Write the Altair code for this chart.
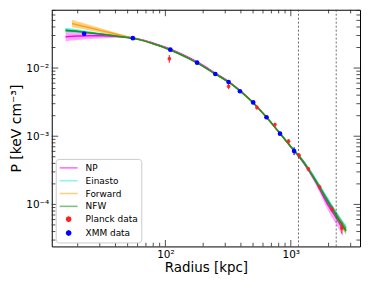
import altair as alt
import pandas as pd

# ---------------- data ----------------
R = [16, 20, 25, 32, 40, 50, 63, 80, 100, 126, 160, 200, 250, 320, 400, 500, 630, 800, 1000, 1260, 1600, 2000, 2500, 2760]

NFW_MID = [0.0355, 0.0343, 0.0327, 0.0310, 0.0295, 0.0280, 0.0259, 0.0227, 0.0197, 0.0165, 0.0133, 0.0106, 0.0082, 0.0062, 0.0045, 0.0031, 0.00196, 0.00116, 0.00070, 0.00042, 0.000213, 0.000106, 0.000054, 0.000041]
NFW_LO = [0.0344, 0.0334, 0.0320, 0.0305, 0.0291, 0.0277, 0.0257, 0.0225, 0.0195, 0.0164, 0.0132, 0.0105, 0.00813, 0.00614, 0.00445, 0.00306, 0.00193, 0.00114, 0.00068, 0.00040, 0.000200, 0.000097, 0.000048, 0.000036]
NFW_HI = [0.0366, 0.0352, 0.0334, 0.0315, 0.0299, 0.0283, 0.0261, 0.0229, 0.0199, 0.0166, 0.0134, 0.0107, 0.00827, 0.00626, 0.00455, 0.00314, 0.00199, 0.00118, 0.00072, 0.00044, 0.000226, 0.000115, 0.000060, 0.000046]

EIN_MID = [0.0362, 0.0349, 0.0332, 0.0313, 0.0297, 0.0281, 0.0259, 0.0227, 0.0197, 0.0165, 0.0133, 0.0106, 0.0082, 0.0062, 0.0045, 0.0031, 0.00196, 0.00117, 0.00071, 0.00043, 0.000222, 0.000112, 0.000058, 0.000045]
EIN_LO = [0.0336, 0.0330, 0.0320, 0.0305, 0.0292, 0.0278, 0.0257, 0.0225, 0.0195, 0.0164, 0.0132, 0.0105, 0.00813, 0.00614, 0.00446, 0.00307, 0.00193, 0.00115, 0.00069, 0.00041, 0.000208, 0.000103, 0.000052, 0.000040]
EIN_HI = [0.0390, 0.0370, 0.0345, 0.0322, 0.0303, 0.0285, 0.0261, 0.0229, 0.0199, 0.0166, 0.0134, 0.0107, 0.00827, 0.00626, 0.00454, 0.00313, 0.00199, 0.00119, 0.00073, 0.00045, 0.000236, 0.000122, 0.000064, 0.000050]

R_FWD = [18, 20, 25, 32, 40, 50, 63, 80, 100, 126, 160, 200, 250, 320, 400, 500, 630, 800, 1000, 1260, 1600, 2000, 2500, 2760]
FWD_MID = [0.0450, 0.0429, 0.0389, 0.0348, 0.0316, 0.0286, 0.0260, 0.0227, 0.0197, 0.0165, 0.0133, 0.0106, 0.0082, 0.0062, 0.0045, 0.0031, 0.00196, 0.00116, 0.00070, 0.00042, 0.000214, 0.000107, 0.000055, 0.000042]
FWD_LO = [0.0397, 0.0383, 0.0355, 0.0324, 0.0300, 0.0277, 0.0256, 0.0225, 0.0195, 0.0164, 0.0132, 0.0105, 0.00813, 0.00614, 0.00446, 0.00307, 0.00194, 0.00115, 0.00069, 0.00041, 0.000206, 0.000101, 0.000050, 0.000038]
FWD_HI = [0.0509, 0.0480, 0.0426, 0.0374, 0.0333, 0.0295, 0.0264, 0.0229, 0.0199, 0.0166, 0.0134, 0.0107, 0.00827, 0.00626, 0.00454, 0.00313, 0.00198, 0.00117, 0.00071, 0.00043, 0.000222, 0.000113, 0.000060, 0.000046]

R_NP = [16, 20, 25, 32, 40, 50, 63, 80, 100, 126, 160, 200, 250, 320, 400, 500, 630, 800, 1000, 1260, 1600, 2000, 2300, 2600]
NP_MID = [0.0288, 0.0294, 0.0297, 0.0297, 0.0292, 0.0282, 0.0263, 0.0232, 0.0202, 0.0170, 0.0137, 0.0109, 0.0084, 0.0063, 0.00455, 0.00312, 0.00196, 0.00116, 0.00070, 0.00041, 0.000205, 0.000095, 0.000064, 0.000043]
NP_LO = [0.0248, 0.0258, 0.0267, 0.0274, 0.0276, 0.0272, 0.0257, 0.0228, 0.0199, 0.0168, 0.0135, 0.0107, 0.0083, 0.00622, 0.00449, 0.00307, 0.00192, 0.00113, 0.00067, 0.00039, 0.000186, 0.000079, 0.000051, 0.000034]
NP_HI = [0.0335, 0.0333, 0.0328, 0.0320, 0.0308, 0.0292, 0.0269, 0.0236, 0.0205, 0.0172, 0.0139, 0.0111, 0.0085, 0.00638, 0.00461, 0.00317, 0.00200, 0.00119, 0.00073, 0.00044, 0.000225, 0.000112, 0.000079, 0.000055]

XMM_R = [22.5, 55, 109.5, 179, 250, 319, 393, 501, 640, 820, 1062]
XMM_P = [0.0318, 0.0274, 0.0186, 0.0120, 0.00817, 0.00625, 0.00457, 0.00313, 0.00190, 0.00109, 0.000608]
XMM_LO = [0.0309, 0.0267, 0.0181, 0.0117, 0.00795, 0.00608, 0.00444, 0.00303, 0.00183, 0.00104, 0.000530]
XMM_HI = [0.0327, 0.0281, 0.0191, 0.0123, 0.00839, 0.00642, 0.00470, 0.00323, 0.00197, 0.00114, 0.000690]

PL_R = [107.6, 319, 537, 747, 959, 1165, 1381, 1697, 2125, 2551]
PL_P = [0.0137, 0.0054, 0.00264, 0.00148, 0.000847, 0.000526, 0.000331, 0.000180, 0.0000855, 0.0000450]
PL_LO = [0.0120, 0.0049, 0.00245, 0.00138, 0.000790, 0.000490, 0.000308, 0.000166, 0.0000770, 0.0000370]
PL_HI = [0.0155, 0.0059, 0.00283, 0.00158, 0.000905, 0.000562, 0.000354, 0.000194, 0.0000940, 0.0000550]

VLINES = [1151, 2301]

X_MAJOR = [100, 1000]
X_MINOR = [20, 30, 40, 50, 60, 70, 80, 90, 200, 300, 400, 500, 600, 700, 800, 900, 2000, 3000]
Y_MAJOR = [1e-4, 1e-3, 1e-2]
Y_MINOR = [3e-5, 4e-5, 5e-5, 6e-5, 7e-5, 8e-5, 9e-5,
           2e-4, 3e-4, 4e-4, 5e-4, 6e-4, 7e-4, 8e-4, 9e-4,
           2e-3, 3e-3, 4e-3, 5e-3, 6e-3, 7e-3, 8e-3, 9e-3,
           2e-2, 3e-2, 4e-2, 5e-2, 6e-2, 7e-2]

LEGEND_NAMES = ["NP", "Einasto", "Forward", "NFW", "Planck data", "XMM data"]
LINE_SYM = "M-1,0L2.6,0"
PT_SYM = ("M1.22,0L1.097,0.297L0.8,0.42L0.503,0.297L0.38,0L0.503,-0.297L0.8,-0.42L1.097,-0.297Z"
          "M0.8,-0.5L0.8,0.5")
LEGEND_SYMBOLS = [LINE_SYM, LINE_SYM, LINE_SYM, LINE_SYM, PT_SYM, PT_SYM]
LEGEND_STROKES = ["#ff70ff", "#88f4f4", "#ffcf80", "#80c080", "#ff2020", "#0000ff"]
LEGEND_FILLS = ["transparent", "transparent", "transparent", "transparent", "#ff2020", "#0000ff"]

# ---------------- chart ----------------
W, H = 310, 238
FONT = "DejaVu Sans"
xs = alt.Scale(type="log", domain=[12.42, 3563], nice=False)
ys = alt.Scale(type="log", domain=[2.42e-5, 0.0716], nice=False)

XAX = alt.Axis(
    title="Radius [kpc]", values=X_MAJOR, ticks=False, domain=False, grid=False,
    labelExpr="datum.value >= 1000 ? '10³' : '10²'",
    labelFont=FONT, labelFontSize=10.5, labelColor="black", labelPadding=3,
    titleFont=FONT, titleFontSize=13.5, titleFontWeight="normal", titleColor="black",
    titlePadding=1, labelFlush=False,
)
YAX = alt.Axis(
    title="P [keV cm⁻³]", values=Y_MAJOR, ticks=False, domain=False, grid=False,
    labelExpr="datum.value < 0.0005 ? '10⁻⁴' : (datum.value < 0.005 ? '10⁻³' : '10⁻²')",
    labelFont=FONT, labelFontSize=10.5, labelColor="black", labelPadding=3,
    titleFont=FONT, titleFontSize=14, titleFontWeight="normal", titleColor="black",
    titleX=-35, titleY=H / 2, titleAngle=270, titleAlign="center", titleBaseline="middle",
    labelFlush=False,
)


def X(field):
    return alt.X(field, type="quantitative", scale=xs, axis=XAX)


def Y(field):
    return alt.Y(field, type="quantitative", scale=ys, axis=YAX)


def model_layers(r, lo, mid, hi, color, band_op, line_color):
    df = pd.DataFrame({"r": r, "lo": lo, "mid": mid, "hi": hi})
    base = alt.Chart(df)
    area = base.mark_area(color=color, opacity=band_op, interpolate="monotone", clip=True).encode(
        x=X("r"), y=Y("lo"), y2="hi"
    )
    line = base.mark_line(color=line_color, strokeWidth=1.5, interpolate="monotone", clip=True).encode(
        x=X("r"), y=Y("mid")
    )
    return [area, line]


layers = []
layers += model_layers(R_NP, NP_LO, NP_MID, NP_HI, "#ff00ff", 0.35, "#ff00ff")
layers += model_layers(R, EIN_LO, EIN_MID, EIN_HI, "#00e5e5", 0.55, "#00e0e0")
layers += model_layers(R_FWD, FWD_LO, FWD_MID, FWD_HI, "#ffa500", 0.5, "#ffa020")
layers += model_layers(R, NFW_LO, NFW_MID, NFW_HI, "#1a9a1a", 0.45, "#1f8f1f")

vdf = pd.DataFrame({"r": VLINES})
layers.append(
    alt.Chart(vdf).mark_rule(color="#444444", strokeDash=[2, 2], strokeWidth=0.8).encode(
        x=X("r"), y=alt.value(0), y2=alt.value(H)
    )
)

pl = pd.DataFrame({"r": PL_R, "p": PL_P, "lo": PL_LO, "hi": PL_HI})
layers.append(
    alt.Chart(pl).mark_rule(color="#ff2020", strokeWidth=1.2, opacity=0.85).encode(
        x=X("r"), y=Y("lo"), y2="hi"
    )
)
layers.append(
    alt.Chart(pl).mark_point(filled=True, color="#ff2020", size=14, opacity=0.9).encode(
        x=X("r"), y=Y("p")
    )
)

xm = pd.DataFrame({"r": XMM_R, "p": XMM_P, "lo": XMM_LO, "hi": XMM_HI})
layers.append(
    alt.Chart(xm).mark_rule(color="#0000ff", strokeWidth=1.2).encode(
        x=X("r"), y=Y("lo"), y2="hi"
    )
)
layers.append(
    alt.Chart(xm).mark_point(filled=True, color="#0000ff", size=22, opacity=1).encode(
        x=X("r"), y=Y("p")
    )
)

# inward ticks on all four sides
MAJ, MIN = 6.5, 3.7
for vals, L in [(X_MAJOR, MAJ), (X_MINOR, MIN)]:
    df = pd.DataFrame({"r": vals})
    for y0, y1 in [(H, H - L), (0, L)]:
        layers.append(
            alt.Chart(df).mark_rule(color="#222222", strokeWidth=0.8).encode(
                x=X("r"), y=alt.value(y0), y2=alt.value(y1)
            )
        )
for vals, L in [(Y_MAJOR, MAJ), (Y_MINOR, MIN)]:
    df = pd.DataFrame({"p": vals})
    for x0, x1 in [(0, L), (W, W - L)]:
        layers.append(
            alt.Chart(df).mark_rule(color="#222222", strokeWidth=0.8).encode(
                y=Y("p"), x=alt.value(x0), x2=alt.value(x1)
            )
        )

# legend (from the scale domain; the layer itself draws nothing)
leg = pd.DataFrame({"name": LEGEND_NAMES})
layers.append(
    alt.Chart(leg).mark_point(filled=False, size=100, strokeWidth=1.6, opacity=1).encode(
        shape=alt.Shape("name:N", scale=alt.Scale(domain=LEGEND_NAMES, range=LEGEND_SYMBOLS), legend=alt.Legend(title=None)),
        stroke=alt.Stroke("name:N", scale=alt.Scale(domain=LEGEND_NAMES, range=LEGEND_STROKES), legend=alt.Legend(title=None)),
        fill=alt.Fill("name:N", scale=alt.Scale(domain=LEGEND_NAMES, range=LEGEND_FILLS), legend=alt.Legend(title=None)),
    ).transform_filter("datum.name == 'none'")
)

chart = alt.layer(*layers).properties(
    width=W, height=H,
    autosize=alt.AutoSizeParams(type="none"),
    padding={"left": 44, "top": 1, "right": 6, "bottom": 32},
).configure_view(
    stroke="black", strokeWidth=1
).configure_legend(
    orient="bottom-left", offset=4, padding=3, strokeColor="#cccccc", cornerRadius=3,
    fillColor="white", labelFont=FONT, labelFontSize=9, labelColor="black",
    labelOffset=15, symbolSize=100, symbolStrokeWidth=1.6, rowPadding=1.9, labelLimit=200,
)

chart.save("out.html", embed_options={"renderer": "svg", "actions": False})
